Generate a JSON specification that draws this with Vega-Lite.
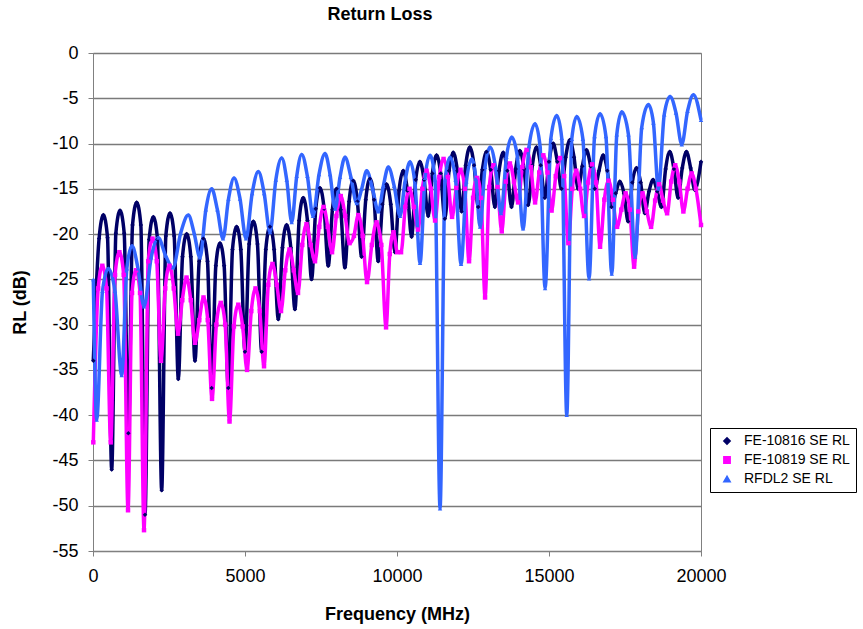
{
"$schema": "https://vega.github.io/schema/vega-lite/v6.json",
"width": 608, "height": 498,
"autosize": "none",
"padding": {"left": 93, "top": 53, "right": 162, "bottom": 78},
"background": "white",
"title": {"text": "Return Loss", "fontSize": 18, "font": "Liberation Sans", "fontWeight": "bold", "anchor": "middle", "dx": -17, "offset": 20, "color": "#000"},
"config": {
"view": {"stroke": "#808080", "strokeWidth": 1},
"axis": {"labelFont": "Liberation Sans", "titleFont": "Liberation Sans", "labelColor": "#000", "titleColor": "#000", "labelFontSize": 18, "titleFontSize": 18, "titleFontWeight": "bold", "domainColor": "#808080", "tickColor": "#808080", "tickSize": 5, "gridColor": "#7a7a7a", "gridWidth": 1.3, "gridOpacity": 1, "labelFlush": false},
"legend": {"labelFont": "Liberation Sans", "labelFontSize": 14, "labelColor": "#000"}
},
"data": {"values": [
{"series":"FE-10816 SE RL","mhz":10,"db":-34},{"series":"FE-10816 SE RL","mhz":200,"db":-20.5},{"series":"FE-10816 SE RL","mhz":341,"db":-17.9},{"series":"FE-10816 SE RL","mhz":478,"db":-20.4},{"series":"FE-10816 SE RL","mhz":615,"db":-46},{"series":"FE-10816 SE RL","mhz":752,"db":-19.9},{"series":"FE-10816 SE RL","mhz":889,"db":-17.4},{"series":"FE-10816 SE RL","mhz":1026,"db":-19.9},{"series":"FE-10816 SE RL","mhz":1163,"db":-42},{"series":"FE-10816 SE RL","mhz":1300,"db":-19},{"series":"FE-10816 SE RL","mhz":1437,"db":-16.5},{"series":"FE-10816 SE RL","mhz":1574,"db":-19},{"series":"FE-10816 SE RL","mhz":1711,"db":-51},{"series":"FE-10816 SE RL","mhz":1848,"db":-20.6},{"series":"FE-10816 SE RL","mhz":1985,"db":-18.1},{"series":"FE-10816 SE RL","mhz":2122,"db":-20.6},{"series":"FE-10816 SE RL","mhz":2259,"db":-48.3},{"series":"FE-10816 SE RL","mhz":2396,"db":-20.2},{"series":"FE-10816 SE RL","mhz":2533,"db":-17.7},{"series":"FE-10816 SE RL","mhz":2670,"db":-20.2},{"series":"FE-10816 SE RL","mhz":2807,"db":-36},{"series":"FE-10816 SE RL","mhz":2944,"db":-22.5},{"series":"FE-10816 SE RL","mhz":3081,"db":-20},{"series":"FE-10816 SE RL","mhz":3218,"db":-22.5},{"series":"FE-10816 SE RL","mhz":3355,"db":-34},{"series":"FE-10816 SE RL","mhz":3492,"db":-23},{"series":"FE-10816 SE RL","mhz":3629,"db":-20.5},{"series":"FE-10816 SE RL","mhz":3766,"db":-23},{"series":"FE-10816 SE RL","mhz":3903,"db":-37},{"series":"FE-10816 SE RL","mhz":4040,"db":-23.5},{"series":"FE-10816 SE RL","mhz":4177,"db":-21},{"series":"FE-10816 SE RL","mhz":4314,"db":-23.5},{"series":"FE-10816 SE RL","mhz":4451,"db":-37},{"series":"FE-10816 SE RL","mhz":4588,"db":-21.7},{"series":"FE-10816 SE RL","mhz":4725,"db":-19.2},{"series":"FE-10816 SE RL","mhz":4862,"db":-21.7},{"series":"FE-10816 SE RL","mhz":4999,"db":-33},{"series":"FE-10816 SE RL","mhz":5136,"db":-21.1},{"series":"FE-10816 SE RL","mhz":5273,"db":-18.6},{"series":"FE-10816 SE RL","mhz":5410,"db":-21.1},{"series":"FE-10816 SE RL","mhz":5547,"db":-33},{"series":"FE-10816 SE RL","mhz":5684,"db":-21.7},{"series":"FE-10816 SE RL","mhz":5821,"db":-19.2},{"series":"FE-10816 SE RL","mhz":5958,"db":-21.7},{"series":"FE-10816 SE RL","mhz":6095,"db":-29.4},{"series":"FE-10816 SE RL","mhz":6232,"db":-21.5},{"series":"FE-10816 SE RL","mhz":6369,"db":-19},{"series":"FE-10816 SE RL","mhz":6506,"db":-21.5},{"series":"FE-10816 SE RL","mhz":6643,"db":-28.3},{"series":"FE-10816 SE RL","mhz":6780,"db":-18.5},{"series":"FE-10816 SE RL","mhz":6917,"db":-16},{"series":"FE-10816 SE RL","mhz":7054,"db":-18.5},{"series":"FE-10816 SE RL","mhz":7191,"db":-25},{"series":"FE-10816 SE RL","mhz":7328,"db":-17.2},{"series":"FE-10816 SE RL","mhz":7465,"db":-14.9},{"series":"FE-10816 SE RL","mhz":7602,"db":-17.2},{"series":"FE-10816 SE RL","mhz":7739,"db":-23.5},{"series":"FE-10816 SE RL","mhz":7876,"db":-17.3},{"series":"FE-10816 SE RL","mhz":8013,"db":-15},{"series":"FE-10816 SE RL","mhz":8150,"db":-17.3},{"series":"FE-10816 SE RL","mhz":8287,"db":-23.7},{"series":"FE-10816 SE RL","mhz":8424,"db":-16.4},{"series":"FE-10816 SE RL","mhz":8561,"db":-14.1},{"series":"FE-10816 SE RL","mhz":8698,"db":-16.4},{"series":"FE-10816 SE RL","mhz":8835,"db":-22.5},{"series":"FE-10816 SE RL","mhz":8972,"db":-16.2},{"series":"FE-10816 SE RL","mhz":9109,"db":-13.9},{"series":"FE-10816 SE RL","mhz":9246,"db":-16.2},{"series":"FE-10816 SE RL","mhz":9383,"db":-23},{"series":"FE-10816 SE RL","mhz":9520,"db":-16.7},{"series":"FE-10816 SE RL","mhz":9657,"db":-14.5},{"series":"FE-10816 SE RL","mhz":9794,"db":-16.7},{"series":"FE-10816 SE RL","mhz":9931,"db":-22},{"series":"FE-10816 SE RL","mhz":10068,"db":-15.2},{"series":"FE-10816 SE RL","mhz":10205,"db":-13},{"series":"FE-10816 SE RL","mhz":10342,"db":-15.2},{"series":"FE-10816 SE RL","mhz":10479,"db":-20.3},{"series":"FE-10816 SE RL","mhz":10616,"db":-14},{"series":"FE-10816 SE RL","mhz":10753,"db":-12},{"series":"FE-10816 SE RL","mhz":10890,"db":-14},{"series":"FE-10816 SE RL","mhz":11027,"db":-18},{"series":"FE-10816 SE RL","mhz":11164,"db":-13.3},{"series":"FE-10816 SE RL","mhz":11301,"db":-11.3},{"series":"FE-10816 SE RL","mhz":11438,"db":-13.3},{"series":"FE-10816 SE RL","mhz":11575,"db":-18.3},{"series":"FE-10816 SE RL","mhz":11712,"db":-13},{"series":"FE-10816 SE RL","mhz":11849,"db":-11},{"series":"FE-10816 SE RL","mhz":11986,"db":-13},{"series":"FE-10816 SE RL","mhz":12123,"db":-17.5},{"series":"FE-10816 SE RL","mhz":12260,"db":-12.4},{"series":"FE-10816 SE RL","mhz":12397,"db":-10.4},{"series":"FE-10816 SE RL","mhz":12534,"db":-12.4},{"series":"FE-10816 SE RL","mhz":12671,"db":-17},{"series":"FE-10816 SE RL","mhz":12808,"db":-12.9},{"series":"FE-10816 SE RL","mhz":12945,"db":-10.9},{"series":"FE-10816 SE RL","mhz":13082,"db":-12.9},{"series":"FE-10816 SE RL","mhz":13219,"db":-17},{"series":"FE-10816 SE RL","mhz":13356,"db":-13},{"series":"FE-10816 SE RL","mhz":13493,"db":-11},{"series":"FE-10816 SE RL","mhz":13630,"db":-13},{"series":"FE-10816 SE RL","mhz":13767,"db":-17},{"series":"FE-10816 SE RL","mhz":13904,"db":-12.8},{"series":"FE-10816 SE RL","mhz":14041,"db":-10.8},{"series":"FE-10816 SE RL","mhz":14178,"db":-12.8},{"series":"FE-10816 SE RL","mhz":14315,"db":-16.8},{"series":"FE-10816 SE RL","mhz":14452,"db":-12.4},{"series":"FE-10816 SE RL","mhz":14589,"db":-10.4},{"series":"FE-10816 SE RL","mhz":14726,"db":-12.4},{"series":"FE-10816 SE RL","mhz":14863,"db":-16},{"series":"FE-10816 SE RL","mhz":15000,"db":-12},{"series":"FE-10816 SE RL","mhz":15137,"db":-10},{"series":"FE-10816 SE RL","mhz":15274,"db":-12},{"series":"FE-10816 SE RL","mhz":15411,"db":-15},{"series":"FE-10816 SE RL","mhz":15548,"db":-11.5},{"series":"FE-10816 SE RL","mhz":15685,"db":-9.6},{"series":"FE-10816 SE RL","mhz":15822,"db":-11.5},{"series":"FE-10816 SE RL","mhz":15959,"db":-15},{"series":"FE-10816 SE RL","mhz":16096,"db":-12.5},{"series":"FE-10816 SE RL","mhz":16233,"db":-10.7},{"series":"FE-10816 SE RL","mhz":16370,"db":-12.5},{"series":"FE-10816 SE RL","mhz":16507,"db":-15},{"series":"FE-10816 SE RL","mhz":16644,"db":-13},{"series":"FE-10816 SE RL","mhz":16781,"db":-11.3},{"series":"FE-10816 SE RL","mhz":16918,"db":-13},{"series":"FE-10816 SE RL","mhz":17055,"db":-17},{"series":"FE-10816 SE RL","mhz":17192,"db":-15.5},{"series":"FE-10816 SE RL","mhz":17329,"db":-14.2},{"series":"FE-10816 SE RL","mhz":17466,"db":-15.5},{"series":"FE-10816 SE RL","mhz":17603,"db":-18.6},{"series":"FE-10816 SE RL","mhz":17740,"db":-14.3},{"series":"FE-10816 SE RL","mhz":17877,"db":-12.7},{"series":"FE-10816 SE RL","mhz":18014,"db":-14.3},{"series":"FE-10816 SE RL","mhz":18151,"db":-17.7},{"series":"FE-10816 SE RL","mhz":18288,"db":-15.3},{"series":"FE-10816 SE RL","mhz":18425,"db":-14},{"series":"FE-10816 SE RL","mhz":18562,"db":-15.3},{"series":"FE-10816 SE RL","mhz":18699,"db":-17},{"series":"FE-10816 SE RL","mhz":18836,"db":-12.8},{"series":"FE-10816 SE RL","mhz":18973,"db":-10.9},{"series":"FE-10816 SE RL","mhz":19110,"db":-12.8},{"series":"FE-10816 SE RL","mhz":19247,"db":-16},{"series":"FE-10816 SE RL","mhz":19384,"db":-12.7},{"series":"FE-10816 SE RL","mhz":19521,"db":-10.9},{"series":"FE-10816 SE RL","mhz":19658,"db":-12.7},{"series":"FE-10816 SE RL","mhz":19795,"db":-15.1},{"series":"FE-10816 SE RL","mhz":20000,"db":-12},
{"series":"FE-10819 SE RL","mhz":10,"db":-43},{"series":"FE-10819 SE RL","mhz":170,"db":-26},{"series":"FE-10819 SE RL","mhz":307,"db":-23.5},{"series":"FE-10819 SE RL","mhz":445,"db":-26},{"series":"FE-10819 SE RL","mhz":582,"db":-43},{"series":"FE-10819 SE RL","mhz":725,"db":-24.5},{"series":"FE-10819 SE RL","mhz":867,"db":-22},{"series":"FE-10819 SE RL","mhz":1010,"db":-24.5},{"series":"FE-10819 SE RL","mhz":1152,"db":-50.5},{"series":"FE-10819 SE RL","mhz":1284,"db":-26.5},{"series":"FE-10819 SE RL","mhz":1415,"db":-24},{"series":"FE-10819 SE RL","mhz":1547,"db":-26.5},{"series":"FE-10819 SE RL","mhz":1678,"db":-52.7},{"series":"FE-10819 SE RL","mhz":1818,"db":-23},{"series":"FE-10819 SE RL","mhz":1957,"db":-20.5},{"series":"FE-10819 SE RL","mhz":2097,"db":-23},{"series":"FE-10819 SE RL","mhz":2237,"db":-34},{"series":"FE-10819 SE RL","mhz":2377,"db":-26},{"series":"FE-10819 SE RL","mhz":2517,"db":-23.5},{"series":"FE-10819 SE RL","mhz":2657,"db":-26},{"series":"FE-10819 SE RL","mhz":2797,"db":-31},{"series":"FE-10819 SE RL","mhz":2937,"db":-27.3},{"series":"FE-10819 SE RL","mhz":3076,"db":-24.8},{"series":"FE-10819 SE RL","mhz":3216,"db":-27.3},{"series":"FE-10819 SE RL","mhz":3356,"db":-32},{"series":"FE-10819 SE RL","mhz":3496,"db":-29.5},{"series":"FE-10819 SE RL","mhz":3635,"db":-27},{"series":"FE-10819 SE RL","mhz":3775,"db":-29.5},{"series":"FE-10819 SE RL","mhz":3915,"db":-38.2},{"series":"FE-10819 SE RL","mhz":4059,"db":-30},{"series":"FE-10819 SE RL","mhz":4203,"db":-27.6},{"series":"FE-10819 SE RL","mhz":4347,"db":-30},{"series":"FE-10819 SE RL","mhz":4491,"db":-40.7},{"series":"FE-10819 SE RL","mhz":4635,"db":-30.2},{"series":"FE-10819 SE RL","mhz":4779,"db":-27.8},{"series":"FE-10819 SE RL","mhz":4923,"db":-30.2},{"series":"FE-10819 SE RL","mhz":5067,"db":-35},{"series":"FE-10819 SE RL","mhz":5207,"db":-28.5},{"series":"FE-10819 SE RL","mhz":5346,"db":-26},{"series":"FE-10819 SE RL","mhz":5486,"db":-28.5},{"series":"FE-10819 SE RL","mhz":5626,"db":-34.6},{"series":"FE-10819 SE RL","mhz":5766,"db":-25.6},{"series":"FE-10819 SE RL","mhz":5905,"db":-23.3},{"series":"FE-10819 SE RL","mhz":6045,"db":-25.6},{"series":"FE-10819 SE RL","mhz":6185,"db":-28.5},{"series":"FE-10819 SE RL","mhz":6325,"db":-24},{"series":"FE-10819 SE RL","mhz":6464,"db":-21.7},{"series":"FE-10819 SE RL","mhz":6604,"db":-24},{"series":"FE-10819 SE RL","mhz":6744,"db":-26.5},{"series":"FE-10819 SE RL","mhz":6884,"db":-21.2},{"series":"FE-10819 SE RL","mhz":7023,"db":-18.9},{"series":"FE-10819 SE RL","mhz":7163,"db":-21.2},{"series":"FE-10819 SE RL","mhz":7303,"db":-23},{"series":"FE-10819 SE RL","mhz":7443,"db":-19.2},{"series":"FE-10819 SE RL","mhz":7583,"db":-17},{"series":"FE-10819 SE RL","mhz":7723,"db":-19.2},{"series":"FE-10819 SE RL","mhz":7863,"db":-22},{"series":"FE-10819 SE RL","mhz":8007,"db":-18},{"series":"FE-10819 SE RL","mhz":8151,"db":-15.8},{"series":"FE-10819 SE RL","mhz":8295,"db":-18},{"series":"FE-10819 SE RL","mhz":8439,"db":-21},{"series":"FE-10819 SE RL","mhz":8583,"db":-20.2},{"series":"FE-10819 SE RL","mhz":8726,"db":-17.9},{"series":"FE-10819 SE RL","mhz":8870,"db":-20.2},{"series":"FE-10819 SE RL","mhz":9014,"db":-25.3},{"series":"FE-10819 SE RL","mhz":9171,"db":-21.2},{"series":"FE-10819 SE RL","mhz":9327,"db":-18.7},{"series":"FE-10819 SE RL","mhz":9484,"db":-21.2},{"series":"FE-10819 SE RL","mhz":9640,"db":-30.3},{"series":"FE-10819 SE RL","mhz":9763,"db":-22.2},{"series":"FE-10819 SE RL","mhz":9886,"db":-19.8},{"series":"FE-10819 SE RL","mhz":10010,"db":-22},{"series":"FE-10819 SE RL","mhz":10133,"db":-22},{"series":"FE-10819 SE RL","mhz":10273,"db":-17},{"series":"FE-10819 SE RL","mhz":10412,"db":-15},{"series":"FE-10819 SE RL","mhz":10552,"db":-17},{"series":"FE-10819 SE RL","mhz":10692,"db":-19.5},{"series":"FE-10819 SE RL","mhz":10832,"db":-15},{"series":"FE-10819 SE RL","mhz":10972,"db":-13},{"series":"FE-10819 SE RL","mhz":11112,"db":-15},{"series":"FE-10819 SE RL","mhz":11252,"db":-18.5},{"series":"FE-10819 SE RL","mhz":11392,"db":-13.7},{"series":"FE-10819 SE RL","mhz":11531,"db":-11.7},{"series":"FE-10819 SE RL","mhz":11671,"db":-13.7},{"series":"FE-10819 SE RL","mhz":11811,"db":-18.1},{"series":"FE-10819 SE RL","mhz":11951,"db":-14.9},{"series":"FE-10819 SE RL","mhz":12090,"db":-12.9},{"series":"FE-10819 SE RL","mhz":12230,"db":-15},{"series":"FE-10819 SE RL","mhz":12370,"db":-23},{"series":"FE-10819 SE RL","mhz":12502,"db":-16},{"series":"FE-10819 SE RL","mhz":12633,"db":-13.8},{"series":"FE-10819 SE RL","mhz":12765,"db":-16},{"series":"FE-10819 SE RL","mhz":12897,"db":-27},{"series":"FE-10819 SE RL","mhz":13034,"db":-14.8},{"series":"FE-10819 SE RL","mhz":13171,"db":-12.4},{"series":"FE-10819 SE RL","mhz":13308,"db":-14.8},{"series":"FE-10819 SE RL","mhz":13446,"db":-19.7},{"series":"FE-10819 SE RL","mhz":13580,"db":-14.2},{"series":"FE-10819 SE RL","mhz":13714,"db":-12.2},{"series":"FE-10819 SE RL","mhz":13848,"db":-14.2},{"series":"FE-10819 SE RL","mhz":13982,"db":-16.5},{"series":"FE-10819 SE RL","mhz":14122,"db":-12.6},{"series":"FE-10819 SE RL","mhz":14262,"db":-10.7},{"series":"FE-10819 SE RL","mhz":14402,"db":-12.6},{"series":"FE-10819 SE RL","mhz":14542,"db":-16.5},{"series":"FE-10819 SE RL","mhz":14678,"db":-13.2},{"series":"FE-10819 SE RL","mhz":14813,"db":-11.3},{"series":"FE-10819 SE RL","mhz":14949,"db":-13.2},{"series":"FE-10819 SE RL","mhz":15085,"db":-17.4},{"series":"FE-10819 SE RL","mhz":15223,"db":-13.6},{"series":"FE-10819 SE RL","mhz":15361,"db":-11.6},{"series":"FE-10819 SE RL","mhz":15499,"db":-13.6},{"series":"FE-10819 SE RL","mhz":15637,"db":-21},{"series":"FE-10819 SE RL","mhz":15766,"db":-15},{"series":"FE-10819 SE RL","mhz":15895,"db":-13},{"series":"FE-10819 SE RL","mhz":16025,"db":-15},{"series":"FE-10819 SE RL","mhz":16154,"db":-18},{"series":"FE-10819 SE RL","mhz":16286,"db":-14.3},{"series":"FE-10819 SE RL","mhz":16417,"db":-12.3},{"series":"FE-10819 SE RL","mhz":16549,"db":-14.3},{"series":"FE-10819 SE RL","mhz":16680,"db":-21.4},{"series":"FE-10819 SE RL","mhz":16820,"db":-16.2},{"series":"FE-10819 SE RL","mhz":16960,"db":-14.1},{"series":"FE-10819 SE RL","mhz":17100,"db":-16.2},{"series":"FE-10819 SE RL","mhz":17240,"db":-19.2},{"series":"FE-10819 SE RL","mhz":17380,"db":-17.3},{"series":"FE-10819 SE RL","mhz":17519,"db":-15.5},{"series":"FE-10819 SE RL","mhz":17659,"db":-17.3},{"series":"FE-10819 SE RL","mhz":17799,"db":-23.6},{"series":"FE-10819 SE RL","mhz":17939,"db":-17.5},{"series":"FE-10819 SE RL","mhz":18078,"db":-15.5},{"series":"FE-10819 SE RL","mhz":18218,"db":-17.5},{"series":"FE-10819 SE RL","mhz":18358,"db":-19.2},{"series":"FE-10819 SE RL","mhz":18490,"db":-16.3},{"series":"FE-10819 SE RL","mhz":18621,"db":-14.5},{"series":"FE-10819 SE RL","mhz":18753,"db":-16.3},{"series":"FE-10819 SE RL","mhz":18885,"db":-17.7},{"series":"FE-10819 SE RL","mhz":19019,"db":-14.2},{"series":"FE-10819 SE RL","mhz":19152,"db":-12.4},{"series":"FE-10819 SE RL","mhz":19286,"db":-14.2},{"series":"FE-10819 SE RL","mhz":19420,"db":-17.5},{"series":"FE-10819 SE RL","mhz":19558,"db":-15},{"series":"FE-10819 SE RL","mhz":19695,"db":-13.3},{"series":"FE-10819 SE RL","mhz":19833,"db":-15},{"series":"FE-10819 SE RL","mhz":20000,"db":-19},
{"series":"RFDL2 SE RL","mhz":10,"db":-25},{"series":"RFDL2 SE RL","mhz":122,"db":-40.5},{"series":"RFDL2 SE RL","mhz":312,"db":-26.3},{"series":"RFDL2 SE RL","mhz":503,"db":-23.8},{"series":"RFDL2 SE RL","mhz":723,"db":-26.3},{"series":"RFDL2 SE RL","mhz":944,"db":-35.6},{"series":"RFDL2 SE RL","mhz":1113,"db":-23.8},{"series":"RFDL2 SE RL","mhz":1283,"db":-21.3},{"series":"RFDL2 SE RL","mhz":1480,"db":-23.8},{"series":"RFDL2 SE RL","mhz":1678,"db":-28},{"series":"RFDL2 SE RL","mhz":1913,"db":-22.6},{"series":"RFDL2 SE RL","mhz":2148,"db":-20.4},{"series":"RFDL2 SE RL","mhz":2390,"db":-22.4},{"series":"RFDL2 SE RL","mhz":2632,"db":-23.7},{"series":"RFDL2 SE RL","mhz":2883,"db":-19.9},{"series":"RFDL2 SE RL","mhz":3135,"db":-17.9},{"series":"RFDL2 SE RL","mhz":3327,"db":-19.9},{"series":"RFDL2 SE RL","mhz":3520,"db":-22.6},{"series":"RFDL2 SE RL","mhz":3712,"db":-17.3},{"series":"RFDL2 SE RL","mhz":3905,"db":-15},{"series":"RFDL2 SE RL","mhz":4091,"db":-17.3},{"series":"RFDL2 SE RL","mhz":4277,"db":-20.5},{"series":"RFDL2 SE RL","mhz":4458,"db":-16.1},{"series":"RFDL2 SE RL","mhz":4639,"db":-13.8},{"series":"RFDL2 SE RL","mhz":4836,"db":-16.1},{"series":"RFDL2 SE RL","mhz":5034,"db":-20.5},{"series":"RFDL2 SE RL","mhz":5236,"db":-15.5},{"series":"RFDL2 SE RL","mhz":5438,"db":-13.1},{"series":"RFDL2 SE RL","mhz":5630,"db":-15.5},{"series":"RFDL2 SE RL","mhz":5823,"db":-19.8},{"series":"RFDL2 SE RL","mhz":6015,"db":-14},{"series":"RFDL2 SE RL","mhz":6208,"db":-11.6},{"series":"RFDL2 SE RL","mhz":6372,"db":-14},{"series":"RFDL2 SE RL","mhz":6537,"db":-18.7},{"series":"RFDL2 SE RL","mhz":6701,"db":-13.6},{"series":"RFDL2 SE RL","mhz":6866,"db":-11.2},{"series":"RFDL2 SE RL","mhz":7052,"db":-13.6},{"series":"RFDL2 SE RL","mhz":7238,"db":-18},{"series":"RFDL2 SE RL","mhz":7435,"db":-13.4},{"series":"RFDL2 SE RL","mhz":7633,"db":-11.1},{"series":"RFDL2 SE RL","mhz":7797,"db":-13.4},{"series":"RFDL2 SE RL","mhz":7962,"db":-17.2},{"series":"RFDL2 SE RL","mhz":8126,"db":-13.7},{"series":"RFDL2 SE RL","mhz":8291,"db":-11.5},{"series":"RFDL2 SE RL","mhz":8483,"db":-13.7},{"series":"RFDL2 SE RL","mhz":8675,"db":-16.6},{"series":"RFDL2 SE RL","mhz":8840,"db":-15},{"series":"RFDL2 SE RL","mhz":9004,"db":-13},{"series":"RFDL2 SE RL","mhz":9195,"db":-15},{"series":"RFDL2 SE RL","mhz":9386,"db":-17.5},{"series":"RFDL2 SE RL","mhz":9550,"db":-14.7},{"series":"RFDL2 SE RL","mhz":9715,"db":-12.6},{"series":"RFDL2 SE RL","mhz":9907,"db":-14.7},{"series":"RFDL2 SE RL","mhz":10100,"db":-18},{"series":"RFDL2 SE RL","mhz":10264,"db":-14.2},{"series":"RFDL2 SE RL","mhz":10429,"db":-12},{"series":"RFDL2 SE RL","mhz":10593,"db":-14.5},{"series":"RFDL2 SE RL","mhz":10758,"db":-23.2},{"series":"RFDL2 SE RL","mhz":10922,"db":-13.8},{"series":"RFDL2 SE RL","mhz":11087,"db":-11.3},{"series":"RFDL2 SE RL","mhz":11251,"db":-14},{"series":"RFDL2 SE RL","mhz":11416,"db":-50.3},{"series":"RFDL2 SE RL","mhz":11580,"db":-14},{"series":"RFDL2 SE RL","mhz":11745,"db":-11.5},{"series":"RFDL2 SE RL","mhz":11926,"db":-14},{"series":"RFDL2 SE RL","mhz":12107,"db":-23.3},{"series":"RFDL2 SE RL","mhz":12283,"db":-14.2},{"series":"RFDL2 SE RL","mhz":12459,"db":-11.7},{"series":"RFDL2 SE RL","mhz":12595,"db":-13.9},{"series":"RFDL2 SE RL","mhz":12732,"db":-19.2},{"series":"RFDL2 SE RL","mhz":12896,"db":-12.6},{"series":"RFDL2 SE RL","mhz":13061,"db":-10.4},{"series":"RFDL2 SE RL","mhz":13242,"db":-12.6},{"series":"RFDL2 SE RL","mhz":13423,"db":-17.7},{"series":"RFDL2 SE RL","mhz":13599,"db":-11.5},{"series":"RFDL2 SE RL","mhz":13775,"db":-9.3},{"series":"RFDL2 SE RL","mhz":13961,"db":-11.5},{"series":"RFDL2 SE RL","mhz":14147,"db":-19.4},{"series":"RFDL2 SE RL","mhz":14344,"db":-10.3},{"series":"RFDL2 SE RL","mhz":14542,"db":-7.8},{"series":"RFDL2 SE RL","mhz":14706,"db":-10.3},{"series":"RFDL2 SE RL","mhz":14871,"db":-26},{"series":"RFDL2 SE RL","mhz":15063,"db":-9.4},{"series":"RFDL2 SE RL","mhz":15255,"db":-6.9},{"series":"RFDL2 SE RL","mhz":15419,"db":-9.4},{"series":"RFDL2 SE RL","mhz":15584,"db":-40},{"series":"RFDL2 SE RL","mhz":15748,"db":-9.5},{"series":"RFDL2 SE RL","mhz":15913,"db":-7},{"series":"RFDL2 SE RL","mhz":16115,"db":-9.5},{"series":"RFDL2 SE RL","mhz":16318,"db":-24.9},{"series":"RFDL2 SE RL","mhz":16499,"db":-9.2},{"series":"RFDL2 SE RL","mhz":16680,"db":-6.7},{"series":"RFDL2 SE RL","mhz":16872,"db":-9.2},{"series":"RFDL2 SE RL","mhz":17065,"db":-24.4},{"series":"RFDL2 SE RL","mhz":17230,"db":-9},{"series":"RFDL2 SE RL","mhz":17394,"db":-6.5},{"series":"RFDL2 SE RL","mhz":17613,"db":-9},{"series":"RFDL2 SE RL","mhz":17832,"db":-22.5},{"series":"RFDL2 SE RL","mhz":18051,"db":-8.2},{"series":"RFDL2 SE RL","mhz":18270,"db":-5.7},{"series":"RFDL2 SE RL","mhz":18434,"db":-7.7},{"series":"RFDL2 SE RL","mhz":18599,"db":-15},{"series":"RFDL2 SE RL","mhz":18791,"db":-6.8},{"series":"RFDL2 SE RL","mhz":18984,"db":-4.8},{"series":"RFDL2 SE RL","mhz":19176,"db":-6.6},{"series":"RFDL2 SE RL","mhz":19368,"db":-10.1},{"series":"RFDL2 SE RL","mhz":19559,"db":-6.4},{"series":"RFDL2 SE RL","mhz":19750,"db":-4.6},{"series":"RFDL2 SE RL","mhz":20000,"db":-7.4}
]},
"encoding": {
"x": {"field": "mhz", "type": "quantitative", "title": "Frequency (MHz)", "scale": {"domain": [0, 20000], "nice": false},
 "axis": {"values": [0, 5000, 10000, 15000, 20000], "labelExpr": "'' + datum.value", "grid": false, "labelPadding": 11, "titlePadding": 20}},
"y": {"field": "db", "type": "quantitative", "title": "RL (dB)", "scale": {"domain": [-55, 0], "nice": false},
 "axis": {"values": [-55, -50, -45, -40, -35, -30, -25, -20, -15, -10, -5, 0], "labelExpr": "'' + datum.value", "grid": true, "labelPadding": 10, "titlePadding": 22}},
"color": {"field": "series", "type": "nominal", "scale": {"domain": ["FE-10816 SE RL", "FE-10819 SE RL", "RFDL2 SE RL"], "range": ["#000066", "#ff00ff", "#3366ff"]},
 "legend": {"title": null, "orient": "none", "legendX": 617, "legendY": 375, "strokeColor": "#000", "fillColor": "#fff", "padding": 6, "rowPadding": 5, "symbolSize": 40, "symbolOffset": 4, "labelOffset": 10}}
},
"layer": [
{"mark": {"type": "line", "interpolate": "monotone", "strokeWidth": 3.5}},
{"mark": {"type": "point", "filled": true, "size": 20, "opacity": 1},
 "encoding": {"shape": {"field": "series", "type": "nominal", "scale": {"domain": ["FE-10816 SE RL", "FE-10819 SE RL", "RFDL2 SE RL"], "range": ["diamond", "square", "triangle-up"]},
  "legend": {"title": null, "orient": "none", "legendX": 617, "legendY": 375, "strokeColor": "#000", "fillColor": "#fff", "padding": 6, "rowPadding": 5, "symbolSize": 40, "symbolOffset": 4, "labelOffset": 10}}}}
]
}
